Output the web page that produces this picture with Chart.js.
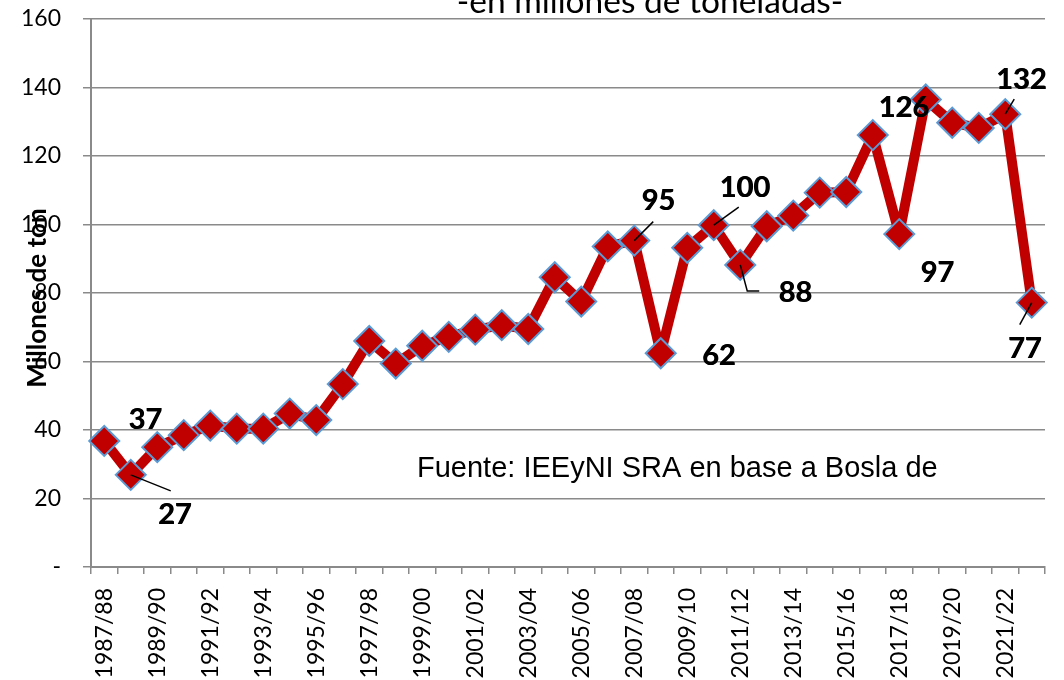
<!DOCTYPE html>
<html>
<head>
<meta charset="utf-8">
<style>
  html, body { margin: 0; padding: 0; background: #fff; }
  #wrap { position: relative; width: 1064px; height: 680px; }
</style>
</head>
<body>
<div id="wrap">
  <canvas id="chart" width="1064" height="680"></canvas>
</div>

<script src="https://cdn.jsdelivr.net/npm/chart.js"></script>

<script>
  const seasons = [
    '1987/88', '1988/89', '1989/90', '1990/91', '1991/92', '1992/93',
    '1993/94', '1994/95', '1995/96', '1996/97', '1997/98', '1998/99',
    '1999/00', '2000/01', '2001/02', '2002/03', '2003/04', '2004/05',
    '2005/06', '2006/07', '2007/08', '2008/09', '2009/10', '2010/11',
    '2011/12', '2012/13', '2013/14', '2014/15', '2015/16', '2016/17',
    '2017/18', '2018/19', '2019/20', '2020/21', '2021/22', '2022/23'
  ]

  // millones de toneladas
  const production = [
    36.8, 26.9, 35.0, 38.5, 41.3, 40.4,
    40.4, 44.8, 42.9, 53.4, 66.0, 59.4,
    64.6, 67.2, 69.3, 70.6, 69.5, 84.6,
    77.5, 93.6, 95.3, 62.4, 93.2, 99.8,
    88.2, 99.5, 102.6, 109.3, 109.5, 126.1,
    97.2, 136.5, 129.7, 128.2, 132.2, 77.2
  ]

  const yTicks = [0, 20, 40, 60, 80, 100, 120, 140, 160]

  const title = '-en millones de toneladas-'
  const yTitle = 'Millones de ton'
  const source = 'Fuente: IEEyNI SRA en base a Bosla de'

  // which points carry a value label
  const labelled = [0, 1, 20, 21, 23, 24, 29, 30, 34, 35]

  // label placement relative to the point (dx, dy) and optional leader line
  const labelStyle = {
    0:  { dx: 41, dy: -22 },
    1:  { dx: 44, dy: 39, leader: [[0, 0], [40, 16]] },
    20: { dx: 24, dy: -41, leader: [[0, 0], [19, -19]] },
    21: { dx: 58, dy: 1 },
    23: { dx: 31, dy: -39, leader: [[0, 0], [25, -18]] },
    24: { dx: 55, dy: 27, leader: [[0, 0], [7, 26], [19, 26]] },
    29: { dx: 31, dy: -28 },
    30: { dx: 38, dy: 38 },
    34: { dx: 16, dy: -36, leader: [[0, 0], [9, -15]] },
    35: { dx: -7, dy: 45, leader: [[0, 0], [-12, 22]] }
  }

  const extras = {
    id: 'extras',
    afterDatasetsDraw(chart) {
      const ctx = chart.ctx
      const meta = chart.getDatasetMeta(0)
      ctx.save()
      ctx.strokeStyle = '#000'
      ctx.lineWidth = 1.5
      ctx.fillStyle = '#000'
      ctx.font = 'bold 29px Lato'
      ctx.textAlign = 'center'
      ctx.textBaseline = 'middle'
      labelled.forEach(i => {
        const p = meta.data[i]
        const s = labelStyle[i]
        if (s.leader) {
          ctx.beginPath()
          s.leader.forEach(([lx, ly], k) => {
            if (k === 0) ctx.moveTo(p.x + lx, p.y + ly)
            else ctx.lineTo(p.x + lx, p.y + ly)
          })
          ctx.stroke()
        }
        const txt = String(Math.round(production[i]))
        ctx.fillText(txt, p.x + s.dx, p.y + s.dy + 1)
        ctx.fillText(txt, p.x + s.dx + 0.6, p.y + s.dy + 1)
      })
      ctx.restore()
    },
    afterDraw(chart) {
      const ctx = chart.ctx
      ctx.save()
      ctx.fillStyle = '#000'

      // title, cut by the top edge
      let size = 30
      ctx.font = size + 'px Lato'
      size = size * 386 / ctx.measureText(title).width
      ctx.font = size.toFixed(1) + 'px Lato'
      ctx.textAlign = 'center'
      ctx.textBaseline = 'alphabetic'
      ctx.fillText(title, 650, 13)

      // source note
      ctx.font = '29px "Liberation Sans", Arial'
      ctx.textAlign = 'left'
      ctx.fillText(source, 417, 477)

      // y axis title
      ctx.translate(38, 298)
      ctx.rotate(-Math.PI / 2)
      ctx.font = 'bold 26px Lato'
      ctx.textAlign = 'center'
      ctx.textBaseline = 'middle'
      ctx.fillText(yTitle, 0, 0)
      ctx.restore()
    }
  }

  new Chart(document.getElementById('chart'), {
    type: 'line',
    data: {
      labels: seasons,
      datasets: [{
        data: production,
        borderColor: '#C00000',
        borderWidth: 10,
        borderJoinStyle: 'round',
        tension: 0,
        fill: false,
        pointStyle: 'rectRot',
        pointRadius: 15,
        pointBackgroundColor: '#C00000',
        pointBorderColor: '#5B9BD5',
        pointBorderWidth: 2
      }]
    },
    options: {
      responsive: false,
      animation: false,
      layout: { padding: { top: 19, right: 19, left: 0, bottom: 0 } },
      plugins: { legend: { display: false }, tooltip: { enabled: false } },
      scales: {
        x: {
          type: 'category',
          offset: true,
          afterFit: s => { s.height = 113; s.paddingLeft = 0; s.paddingRight = 0 },
          grid: { offset: true, drawOnChartArea: false, color: '#8a8a8a', lineWidth: 1.5, tickLength: 7 },
          border: { color: '#8a8a8a', width: 2 },
          ticks: {
            autoSkip: false,
            maxRotation: 90,
            minRotation: 90,
            padding: 14,
            color: '#000',
            font: { family: 'Lato', size: 23 },
            callback: (v, i) => i % 2 === 0 ? seasons[i] : ''
          }
        },
        y: {
          min: 0,
          max: 160,
          afterFit: s => { s.width = 91; s.paddingTop = 0; s.paddingBottom = 0 },
          afterBuildTicks: s => { s.ticks = yTicks.map(v => ({ value: v })) },
          grid: { color: '#8a8a8a', lineWidth: 1.5, tickLength: 8 },
          border: { color: '#8a8a8a', width: 2 },
          ticks: {
            padding: 22,
            color: '#000',
            font: { family: 'Lato', size: 23 },
            callback: v => v === 0 ? '-' : v
          }
        }
      }
    },
    plugins: [extras]
  })
</script>
</body>
</html>
